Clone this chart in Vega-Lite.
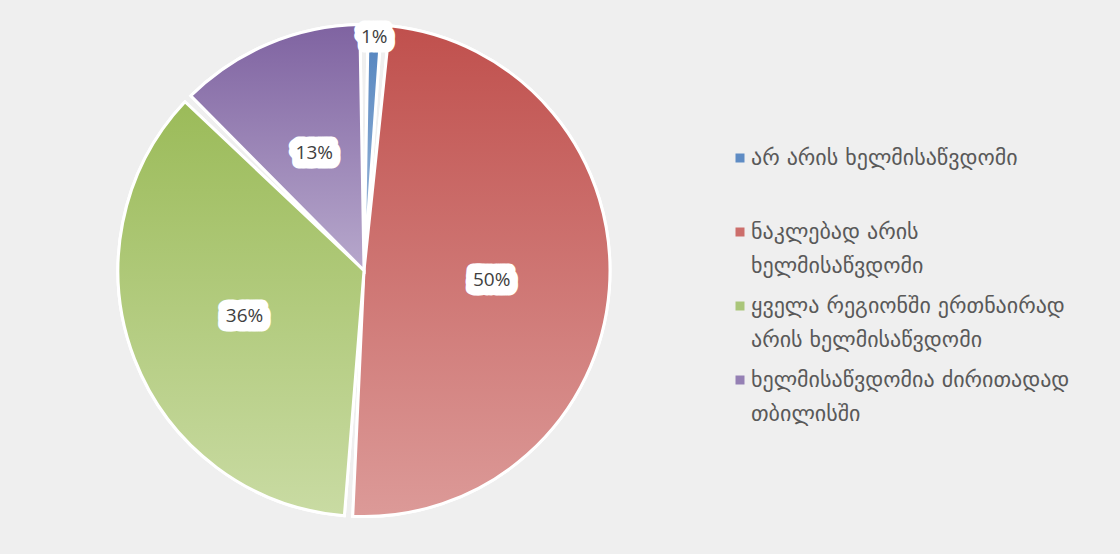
{
  "$schema": "https://vega.github.io/schema/vega-lite/v6.json",
  "width": 728,
  "height": 541,
  "padding": {"left": 0, "top": 0, "right": 392, "bottom": 13},
  "autosize": {"type": "none"},
  "background": "#efefef",
  "config": {
    "view": {"stroke": null},
    "style": {"guide-label": {"lineHeight": 34}}
  },
  "data": {
    "values": [
      {"n": 1, "cat": "არ არის ხელმისაწვდომი", "value": 1.4, "pct": "1%"},
      {"n": 2, "cat": "ნაკლებად არის ხელმისაწვდომი", "value": 49.6, "pct": "50%"},
      {"n": 3, "cat": "ყველა რეგიონში ერთნაირად არის ხელმისაწვდომი", "value": 36.3, "pct": "36%"},
      {"n": 4, "cat": "ხელმისაწვდომია ძირითადად თბილისში", "value": 12.7, "pct": "13%"}
    ]
  },
  "encoding": {
    "theta": {"field": "value", "type": "quantitative", "stack": true},
    "order": {"field": "n", "type": "quantitative"}
  },
  "layer": [
    {
      "mark": {"type": "arc", "outerRadius": 246, "padAngle": 0.034, "stroke": "white", "strokeWidth": 3},
      "encoding": {
        "color": {
          "field": "cat",
          "type": "nominal",
          "scale": {
            "domain": ["არ არის ხელმისაწვდომი", "ნაკლებად არის ხელმისაწვდომი", "ყველა რეგიონში ერთნაირად არის ხელმისაწვდომი", "ხელმისაწვდომია ძირითადად თბილისში"],
            "range": ["#5f8cc4", "#cc6e6b", "#aac67a", "#9580b4"]
          },
          "legend": {
            "title": null,
            "orient": "none",
            "legendX": 729,
            "legendY": 147,
            "padding": 0,
            "symbolType": "square",
            "symbolSize": 81,
            "symbolStrokeWidth": 0,
            "labelFont": "DejaVu Sans",
            "labelFontSize": 22,
            "labelColor": "#595959",
            "labelLimit": 0,
            "labelOffset": 0,
            "rowPadding": 18,
            "labelExpr": "datum.label == 'ნაკლებად არის ხელმისაწვდომი' ? ['ნაკლებად არის', 'ხელმისაწვდომი'] : datum.label == 'ყველა რეგიონში ერთნაირად არის ხელმისაწვდომი' ? ['ყველა რეგიონში ერთნაირად', 'არის ხელმისაწვდომი'] : datum.label == 'ხელმისაწვდომია ძირითადად თბილისში' ? ['ხელმისაწვდომია ძირითადად', 'თბილისში'] : [datum.label, '']"
          }
        }
      }
    },
    {
      "mark": {"type": "arc", "outerRadius": 246, "padAngle": 0.034, "stroke": "white", "strokeWidth": 3,
        "fill": {"gradient": "linear", "x1": 0, "y1": 0, "x2": 0, "y2": 1, "stops": [{"offset": 0, "color": "#4f81bd"}, {"offset": 1, "color": "#a7c0de"}]}},
      "encoding": {"opacity": {"condition": {"test": "datum.n == 1", "value": 1}, "value": 0}}
    },
    {
      "mark": {"type": "arc", "outerRadius": 246, "padAngle": 0.034, "stroke": "white", "strokeWidth": 3,
        "fill": {"gradient": "linear", "x1": 0, "y1": 0, "x2": 0, "y2": 1, "stops": [{"offset": 0, "color": "#c0504d"}, {"offset": 1, "color": "#dc9a98"}]}},
      "encoding": {"opacity": {"condition": {"test": "datum.n == 2", "value": 1}, "value": 0}}
    },
    {
      "mark": {"type": "arc", "outerRadius": 246, "padAngle": 0.034, "stroke": "white", "strokeWidth": 3,
        "fill": {"gradient": "linear", "x1": 0, "y1": 0, "x2": 0, "y2": 1, "stops": [{"offset": 0, "color": "#9bbb59"}, {"offset": 1, "color": "#c9dba3"}]}},
      "encoding": {"opacity": {"condition": {"test": "datum.n == 3", "value": 1}, "value": 0}}
    },
    {
      "mark": {"type": "arc", "outerRadius": 246, "padAngle": 0.034, "stroke": "white", "strokeWidth": 3,
        "fill": {"gradient": "linear", "x1": 0, "y1": 0, "x2": 0, "y2": 1, "stops": [{"offset": 0, "color": "#7f63a1"}, {"offset": 1, "color": "#b7a8cc"}]}},
      "encoding": {"opacity": {"condition": {"test": "datum.n == 4", "value": 1}, "value": 0}}
    },
    {
      "mark": {"type": "text", "radius": 128, "dx": -2, "dy": -3, "font": "Open Sans", "fontSize": 19, "fill": "white", "stroke": "white", "strokeWidth": 13, "strokeJoin": "round"},
      "encoding": {"text": {"condition": {"test": "datum.value < 5", "value": ""}, "field": "pct", "type": "nominal"}}
    },
    {
      "mark": {"type": "text", "radius": 128, "dx": 2, "dy": -3, "font": "Open Sans", "fontSize": 19, "fill": "white", "stroke": "white", "strokeWidth": 13, "strokeJoin": "round"},
      "encoding": {"text": {"condition": {"test": "datum.value < 5", "value": ""}, "field": "pct", "type": "nominal"}}
    },
    {
      "mark": {"type": "text", "radius": 128, "dx": -2, "dy": 3, "font": "Open Sans", "fontSize": 19, "fill": "white", "stroke": "white", "strokeWidth": 13, "strokeJoin": "round"},
      "encoding": {"text": {"condition": {"test": "datum.value < 5", "value": ""}, "field": "pct", "type": "nominal"}}
    },
    {
      "mark": {"type": "text", "radius": 128, "dx": 2, "dy": 3, "font": "Open Sans", "fontSize": 19, "fill": "white", "stroke": "white", "strokeWidth": 13, "strokeJoin": "round"},
      "encoding": {"text": {"condition": {"test": "datum.value < 5", "value": ""}, "field": "pct", "type": "nominal"}}
    },
    {
      "mark": {"type": "text", "radius": 128, "font": "Open Sans", "fontSize": 19, "fill": "#404040"},
      "encoding": {"text": {"condition": {"test": "datum.value < 5", "value": ""}, "field": "pct", "type": "nominal"}}
    },
    {
      "mark": {"type": "text", "radius": 234, "dx": -2, "dy": -3, "font": "Open Sans", "fontSize": 19, "fill": "white", "stroke": "white", "strokeWidth": 13, "strokeJoin": "round"},
      "encoding": {"text": {"condition": {"test": "datum.value >= 5", "value": ""}, "field": "pct", "type": "nominal"}}
    },
    {
      "mark": {"type": "text", "radius": 234, "dx": 2, "dy": -3, "font": "Open Sans", "fontSize": 19, "fill": "white", "stroke": "white", "strokeWidth": 13, "strokeJoin": "round"},
      "encoding": {"text": {"condition": {"test": "datum.value >= 5", "value": ""}, "field": "pct", "type": "nominal"}}
    },
    {
      "mark": {"type": "text", "radius": 234, "dx": -2, "dy": 3, "font": "Open Sans", "fontSize": 19, "fill": "white", "stroke": "white", "strokeWidth": 13, "strokeJoin": "round"},
      "encoding": {"text": {"condition": {"test": "datum.value >= 5", "value": ""}, "field": "pct", "type": "nominal"}}
    },
    {
      "mark": {"type": "text", "radius": 234, "dx": 2, "dy": 3, "font": "Open Sans", "fontSize": 19, "fill": "white", "stroke": "white", "strokeWidth": 13, "strokeJoin": "round"},
      "encoding": {"text": {"condition": {"test": "datum.value >= 5", "value": ""}, "field": "pct", "type": "nominal"}}
    },
    {
      "mark": {"type": "text", "radius": 234, "font": "Open Sans", "fontSize": 19, "fill": "#404040"},
      "encoding": {"text": {"condition": {"test": "datum.value >= 5", "value": ""}, "field": "pct", "type": "nominal"}}
    }
  ]
}
